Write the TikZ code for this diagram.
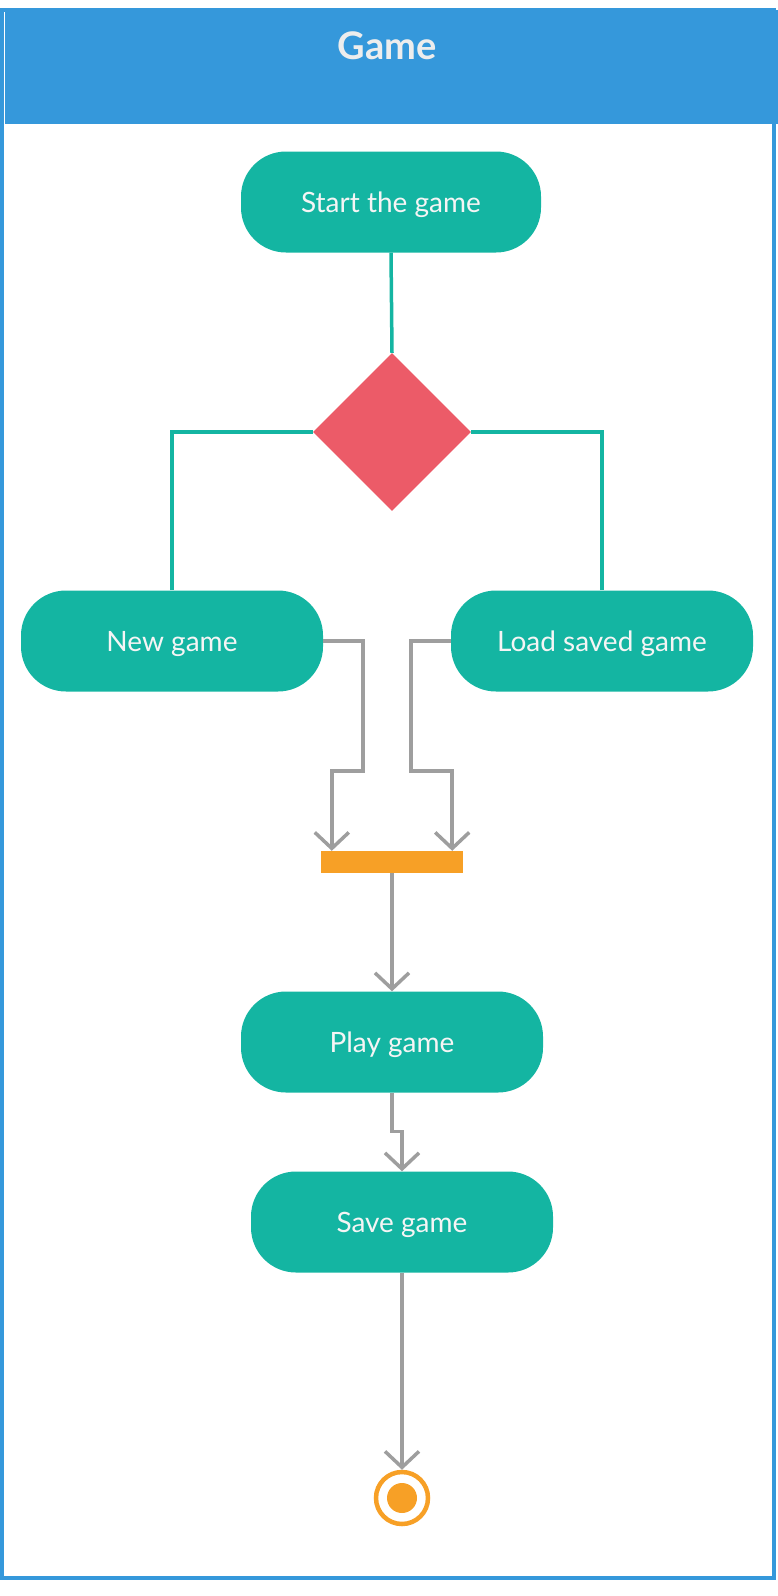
\documentclass[tikz,border=0pt]{standalone}
\usepackage{fontspec}
\setmainfont{Lato}
\definecolor{lane}{RGB}{53,152,219}
\definecolor{teal}{RGB}{20,181,162}
\definecolor{choice}{RGB}{236,91,104}
\definecolor{sync}{RGB}{247,160,38}
\definecolor{wire}{RGB}{158,158,158}
\usetikzlibrary{arrows.meta,positioning,shapes.geometric}
\tikzset{
  act/.style={fill=teal, rounded corners=45pt, text=white!96!black,
              minimum width=302pt, minimum height=101pt, inner sep=0pt,
              text height=20pt, text depth=0pt,
              font=\fontsize{28}{32}\selectfont},
  decide/.style={diamond, fill=choice, minimum width=158pt, minimum height=158pt, inner sep=0pt},
  branch/.style={teal, line width=3.5pt},
  flow/.style={-{Straight Barb[length=16pt,width=34pt]}, wire, line width=3.5pt},
  joinbar/.style={fill=sync, minimum width=142pt, minimum height=22pt, inner sep=0pt},
}

\begin{document}
\begin{tikzpicture}[x=1pt,y=-1pt]
    \useasboundingbox (0,0) rectangle (778,1596);
    % swimlane
    \draw[lane,line width=3.5pt] (2,10) rectangle (774,1578);
    \node[fill=lane,anchor=north west,minimum width=773pt,minimum height=114pt,inner sep=0pt] (head) at (5,10) {};
    \node[text=black!7,font=\bfseries\fontsize{38}{42}\selectfont] (title) at (387,46) {Game};
    % activities
    \node[act,minimum width=300pt] (start) at (391,202) {Start the game};
    \node[decide] (dec) at (392,432) {};
    \node[act] (newg) at (172,641) {New game};
    \node[act] (load) at (602,641) {Load saved game};
    \node[joinbar] (bar) at (392,862) {};
    \coordinate (barL) at ([xshift=11pt]bar.north west);
    \coordinate (barR) at ([xshift=-11pt]bar.north east);
    \node[act] (play) at (392,1042) {Play game};
    \node[act] (save) at (402,1222) {Save game};
    \node[circle,draw=sync,line width=4.5pt,minimum size=52pt,inner sep=0pt] (end) at (402,1498) {};
    \fill[sync] (end.center) circle (15pt);
    % connectors
    \draw[branch] (start.south) -- (dec.north);
    \draw[branch] (dec.west) -| (newg.north);
    \draw[branch] (dec.east) -| (load.north);
    \draw[flow] (newg.east) -| ++(40,130) -| (barL);
    \draw[flow] (load.west) -| ++(-40,130) -| (barR);
    \draw[flow] (bar.south) -- (play.north);
    \draw[flow] (play.south) -- ++(0,39) -| (save.north);
    \draw[flow] (save.south) -- (end.north);
\end{tikzpicture}
\end{document}
